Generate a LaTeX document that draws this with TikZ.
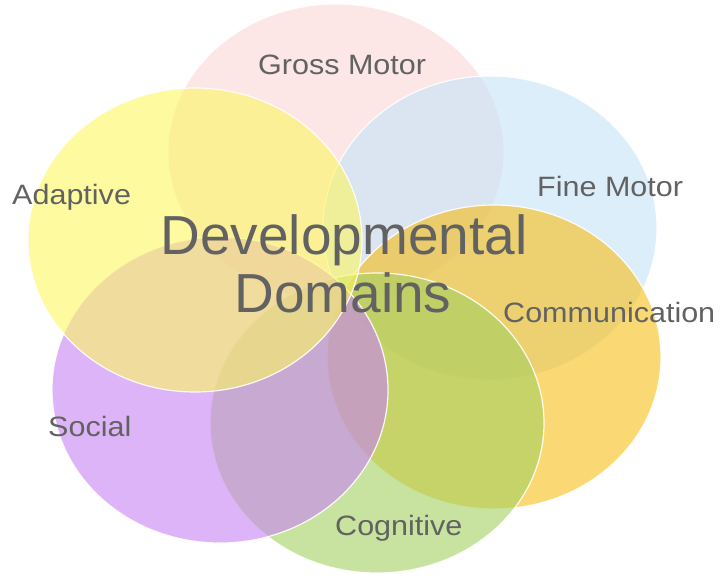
\documentclass[tikz,border=0pt]{standalone}
\usepackage{fontspec}
\setmainfont{Liberation Sans}
\definecolor{cpink}{RGB}{250,213,213}
\definecolor{cblue}{RGB}{198,227,248}
\definecolor{cgold}{RGB}{247,190,22}
\definecolor{cgreen}{RGB}{163,208,97}
\definecolor{cpurple}{RGB}{200,130,243}
\definecolor{cyellow}{RGB}{253,247,97}
\definecolor{txt}{RGB}{98,98,98}
\tikzset{
  dom/.style={fill opacity=0.6, draw=white, draw opacity=0.9, line width=1.2pt},
  lab/.style={anchor=base west, inner sep=0pt, text=txt, xscale=1.09, font=\fontsize{28}{28}\selectfont},
  title/.style={align=center, inner sep=0pt, text=txt, font=\fontsize{55}{58}\selectfont}
}
\begin{document}
\begin{tikzpicture}[x=1pt,y=1pt]
\useasboundingbox (0,0) rectangle (725,581);
% y_tikz = 581 - y_image
\path[dom, fill=cpink]   (336,429) ellipse [x radius=168, y radius=148];
\path[dom, fill=cblue]   (490,353) ellipse [x radius=167, y radius=152];
\path[dom, fill=cgold]   (494,224) ellipse [x radius=167, y radius=152];
\path[dom, fill=cgreen]  (377,158) ellipse [x radius=167, y radius=150];
\path[dom, fill=cpurple] (220,191) ellipse [x radius=168, y radius=153];
\path[dom, fill=cyellow] (195,341) ellipse [x radius=167, y radius=152];
\node[lab] (gm) at (258,506) {Gross Motor};
\node[lab] (fm) at (537,384) {Fine Motor};
\node[lab] (ad) at (12,376) {Adaptive};
\node[lab] (cm) at (503,258) {Communication};
\node[lab] (so) at (48,144) {Social};
\node[lab] (cg) at (335,46) {Cognitive};
\node[title, anchor=base] (dd) at (344,326) {Developmental};
\node[title, anchor=base] (dd2) at (343,268) {Domains};
\end{tikzpicture}
\end{document}
